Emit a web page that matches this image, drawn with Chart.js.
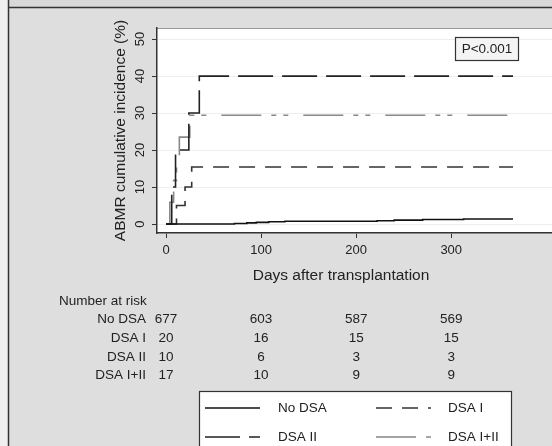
<!DOCTYPE html>
<html>
<head>
<meta charset="utf-8">
<script src="https://cdn.jsdelivr.net/npm/chart.js@4.4.0/dist/chart.umd.min.js"></script>
<style>
  html, body { margin: 0; padding: 0; background: #dedede; }
  #wrap { width: 552px; height: 446px; position: relative; }
</style>
</head>
<body>
<div id="wrap"><canvas id="chart"></canvas></div>
<script>
// values
const xTicks = [0, 100, 200, 300];
const yTicks = [0, 10, 20, 30, 40, 50];

const noDsaDays = [0, 72, 85, 95, 108, 125, 222, 240, 270, 313, 365];
const noDsaPct  = [0, 0.15, 0.3, 0.45, 0.6, 0.75, 0.9, 1.05, 1.2, 1.35, 1.35];
const dsa1Days  = [0, 11, 20, 27, 365];
const dsa1Pct   = [0, 5, 10, 15.4, 15.4];
const dsa2Days  = [0, 6, 10, 24, 35, 365];
const dsa2Pct   = [0, 10, 20, 30, 40, 40];
const dsa12Days = [0, 4, 8, 11, 14, 25, 365];
const dsa12Pct  = [0, 5.9, 11.8, 17.6, 23.5, 29.4, 29.4];

const riskGroups = ['No DSA', 'DSA I', 'DSA II', 'DSA I+II'];
const riskNoDsa = [677, 603, 587, 569];
const riskDsa1  = [20, 16, 15, 15];
const riskDsa2  = [10, 6, 3, 3];
const riskDsa12 = [17, 10, 9, 9];
const pValue = 'P<0.001';

const FONT = '"Liberation Sans", Arial, Helvetica, sans-serif';

function pts(days, pct) {
    return days.map((d, i) => ({ x: d, y: pct[i] }));
}

const stataPlugin = {
    id: 'stata',
    beforeDraw(chart) {
        const { ctx, chartArea: a, width, height } = chart;
        ctx.save();
        ctx.fillStyle = '#dedede';
        ctx.fillRect(0, 0, width, height);
        ctx.fillStyle = '#f0f0f0';
        ctx.fillRect(0, 0, 8, height);
        ctx.fillStyle = '#d8d8d8';
        ctx.fillRect(8, 0, width, 7);
        ctx.strokeStyle = '#333';
        ctx.lineWidth = 1.5;
        ctx.beginPath();
        ctx.moveTo(8.5, 0); ctx.lineTo(8.5, height);
        ctx.moveTo(8, 7.5); ctx.lineTo(width, 7.5);
        ctx.stroke();
        ctx.fillStyle = '#fff';
        ctx.fillRect(a.left, a.top, a.right - a.left, a.bottom - a.top);
        ctx.strokeStyle = '#999';
        ctx.lineWidth = 1;
        ctx.beginPath();
        ctx.moveTo(a.left, a.top + 0.5); ctx.lineTo(a.right, a.top + 0.5);
        ctx.stroke();
        ctx.restore();
    },
    afterDraw(chart) {
        const { ctx, chartArea: a, scales } = chart;
        const xs = scales.x, ys = scales.y;
        ctx.save();
        ctx.fillStyle = '#222';

        // y tick labels, rotated
        ctx.font = '13px ' + FONT;
        ctx.textAlign = 'center';
        ctx.textBaseline = 'middle';
        yTicks.forEach(v => {
            ctx.save();
            ctx.translate(140, ys.getPixelForValue(v));
            ctx.rotate(-Math.PI / 2);
            ctx.fillText(String(v), 0, 0);
            ctx.restore();
        });

        // axis titles
        ctx.font = '15.5px ' + FONT;
        ctx.save();
        ctx.translate(121, (a.top + a.bottom) / 2);
        ctx.rotate(-Math.PI / 2);
        ctx.fillText('ABMR cumulative incidence (%)', 0, 0);
        ctx.restore();
        ctx.fillText('Days after transplantation', 341, 276);

        // p value box
        ctx.fillStyle = '#f4f4f4';
        ctx.fillRect(455, 37, 63, 23);
        ctx.strokeStyle = '#333';
        ctx.lineWidth = 1.2;
        ctx.strokeRect(455.5, 37.5, 63, 23);
        ctx.fillStyle = '#222';
        ctx.font = '13.5px ' + FONT;
        ctx.fillText(pValue, 487, 49.5);

        // number at risk
        ctx.textAlign = 'left';
        ctx.fillText('Number at risk', 59, 301);
        const rows = [riskNoDsa, riskDsa1, riskDsa2, riskDsa12];
        rows.forEach((row, r) => {
            const y = 319.5 + r * 18.7;
            ctx.textAlign = 'right';
            ctx.fillText(riskGroups[r], 146, y);
            ctx.textAlign = 'center';
            row.forEach((n, i) => ctx.fillText(String(n), xs.getPixelForValue(xTicks[i]), y));
        });

        // legend
        ctx.fillStyle = '#fff';
        ctx.fillRect(199, 391, 312, 70);
        ctx.strokeStyle = '#333';
        ctx.lineWidth = 1.2;
        ctx.strokeRect(199.5, 391.5, 312, 70);
        const sx = [205, 376], tx = [278, 448], ry = [408, 437];
        chart.data.datasets.forEach((ds, i) => {
            const c = i % 2, r = Math.floor(i / 2);
            ctx.save();
            ctx.strokeStyle = ds.borderColor;
            ctx.lineWidth = ds.borderWidth;
            ctx.setLineDash(ds.borderDash || []);
            ctx.beginPath();
            ctx.moveTo(sx[c], ry[r]); ctx.lineTo(sx[c] + 55, ry[r]);
            ctx.stroke();
            ctx.restore();
            ctx.fillStyle = '#222';
            ctx.textAlign = 'left';
            ctx.fillText(ds.label, tx[c], ry[r]);
        });
        ctx.restore();
    }
};

const common = { stepped: 'before', pointRadius: 0, fill: false, borderWidth: 1.6 };

new Chart(document.getElementById('chart'), {
    type: 'line',
    data: {
        datasets: [
            { ...common, label: 'No DSA', data: pts(noDsaDays, noDsaPct), borderColor: '#111' },
            { ...common, label: 'DSA I', data: pts(dsa1Days, dsa1Pct), borderColor: '#333', borderDash: [16, 10] },
            { ...common, label: 'DSA II', data: pts(dsa2Days, dsa2Pct), borderColor: '#222', borderDash: [35, 9] },
            { ...common, label: 'DSA I+II', data: pts(dsa12Days, dsa12Pct), borderColor: '#888', borderDash: [40, 10, 5, 7, 5, 15] }
        ]
    },
    options: {
        responsive: true,
        maintainAspectRatio: false,
        animation: false,
        layout: { padding: { top: 28, right: 0, left: 0, bottom: 0 } },
        plugins: { legend: { display: false }, tooltip: { enabled: false } },
        scales: {
            x: {
                type: 'linear',
                min: -9.5,
                max: 406,
                afterBuildTicks: s => { s.ticks = xTicks.map(v => ({ value: v })); },
                afterFit: s => { s.height = 213; },
                grid: { drawOnChartArea: false, tickLength: 5, tickColor: '#333', lineWidth: 1 },
                border: { color: '#333', width: 1.5 },
                ticks: { color: '#222', font: { family: FONT, size: 13 }, padding: 5, maxRotation: 0 }
            },
            y: {
                type: 'linear',
                min: -2.43,
                max: 53,
                afterBuildTicks: s => { s.ticks = yTicks.map(v => ({ value: v })); },
                afterFit: s => { s.width = 157; },
                grid: { color: '#eeeeee', tickLength: 5, tickColor: '#333', lineWidth: 1 },
                border: { color: '#333', width: 1.5 },
                ticks: { display: false }
            }
        }
    },
    plugins: [stataPlugin]
});
</script>
</body>
</html>
